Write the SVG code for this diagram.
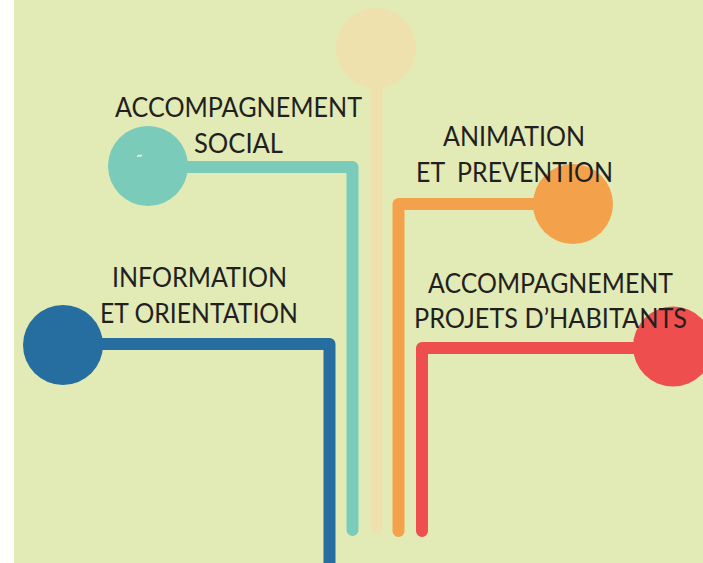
<svg xmlns="http://www.w3.org/2000/svg" width="703" height="563" viewBox="0 0 703 563">
<style>
.ln{fill:none;stroke-width:12;stroke-linecap:round;stroke-linejoin:round}
.lbl{font-family:Lato,"Open Sans","Liberation Sans",sans-serif;font-size:26px;fill:#231f20;text-anchor:middle}
</style>
<rect x="0" y="0" width="703" height="563" fill="#ffffff"/>
<rect x="14" y="0" width="689" height="563" fill="#e2eab6"/>
<g id="connectors">
<polyline class="ln" stroke="#266ea0" points="63,344 329.5,344 329.5,580"/>
<polyline class="ln" stroke="#7bcbbb" points="148,167 352.5,167 352.5,530"/>
<polyline class="ln" stroke="#efe1ad" points="376.5,48 376.5,528"/>
<polyline class="ln" stroke="#f4a14b" points="573,204 398.5,204 398.5,531"/>
<polyline class="ln" stroke="#ef4e4e" points="673,348 422,348 422,531"/>
</g>
<g id="node-beige">
<circle cx="376" cy="48" r="40" fill="#efe1ad"/>
</g>
<g id="node-social">
<circle cx="148" cy="166" r="40" fill="#7bcbbb"/>
<text x="139" y="166" font-family="Liberation Sans,sans-serif" font-size="14" fill="#ffffff" text-anchor="middle">˝</text>
<text class="lbl" x="238.5" y="117" textLength="247" lengthAdjust="spacingAndGlyphs">ACCOMPAGNEMENT</text>
<text class="lbl" x="238.5" y="153" textLength="89" lengthAdjust="spacingAndGlyphs">SOCIAL</text>
</g>
<g id="node-animation">
<circle cx="573" cy="204" r="40" fill="#f4a14b"/>
<text class="lbl" x="514" y="146" textLength="142" lengthAdjust="spacingAndGlyphs">ANIMATION</text>
<text class="lbl" x="514.5" y="182" textLength="197" lengthAdjust="spacingAndGlyphs" xml:space="preserve">ET  PREVENTION</text>
</g>
<g id="node-information">
<circle cx="63" cy="345" r="40" fill="#266ea0"/>
<text class="lbl" x="199.5" y="287" textLength="175" lengthAdjust="spacingAndGlyphs">INFORMATION</text>
<text class="lbl" x="199" y="323" textLength="198" lengthAdjust="spacingAndGlyphs">ET ORIENTATION</text>
</g>
<g id="node-projets">
<circle cx="673" cy="346.5" r="40" fill="#ef4e4e"/>
<text class="lbl" x="550.5" y="293" textLength="245" lengthAdjust="spacingAndGlyphs">ACCOMPAGNEMENT</text>
<text class="lbl" x="550.5" y="328" textLength="273" lengthAdjust="spacingAndGlyphs">PROJETS D’HABITANTS</text>
</g>
</svg>
